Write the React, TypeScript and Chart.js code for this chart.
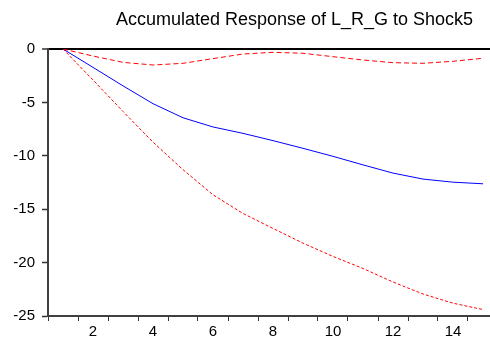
import React, { useEffect, useRef } from "react";
import { Chart, registerables } from "chart.js";

Chart.register(...registerables);

const periods = [1, 2, 3, 4, 5, 6, 7, 8, 9, 10, 11, 12, 13, 14, 15];
const responseMid = [0, -1.72, -3.45, -5.12, -6.44, -7.3, -7.9, -8.58, -9.3, -10.05, -10.85, -11.62, -12.18, -12.47, -12.62];
const bandUpper = [0, -0.66, -1.25, -1.5, -1.34, -0.9, -0.47, -0.31, -0.4, -0.72, -1.03, -1.28, -1.34, -1.15, -0.87];
const bandLower = [0, -2.9, -5.85, -8.72, -11.3, -13.65, -15.4, -16.8, -18.18, -19.42, -20.55, -21.82, -22.94, -23.8, -24.4];
const yTickValues = [0, -5, -10, -15, -20, -25];
const xLabelValues = [2, 4, 6, 8, 10, 12, 14];
const xTickMarks = [0.5, 1.5, 2.5, 3.5, 4.5, 5.5, 6.5, 7.5, 8.5, 9.5, 10.5, 11.5, 12.5, 13.5, 14.5, 15.5];
const titleText = "Accumulated Response of L_R_G to Shock5";

const FONT = "'Liberation Sans', Arial, sans-serif";
const CANVAS_W = 589;
const CANVAS_H = 341;
const AXIS_LEFT = 48;
const PX_PER_PERIOD = 30;
const X_MIN = 0.5;
const X_MAX = X_MIN + (CANVAS_W - AXIS_LEFT) / PX_PER_PERIOD;

export default function App() {
  const ref = useRef<HTMLCanvasElement | null>(null);

  useEffect(() => {
    if (!ref.current) return;
    const toPts = (arr: number[]) => periods.map((p, i) => ({ x: p, y: arr[i] }));
    const chart = new Chart(ref.current, {
      type: "line",
      data: {
        datasets: [
          {
            data: toPts(bandUpper),
            borderColor: "#ff0000",
            borderWidth: 1,
            borderDash: [5, 3],
            pointRadius: 0,
            tension: 0,
            fill: false,
          },
          {
            data: toPts(bandLower),
            borderColor: "#ff0000",
            borderWidth: 1,
            borderDash: [3, 2],
            pointRadius: 0,
            tension: 0,
            fill: false,
          },
          {
            data: toPts(responseMid),
            borderColor: "#0000ff",
            borderWidth: 1,
            pointRadius: 0,
            tension: 0,
            fill: false,
          },
        ],
      },
      options: {
        animation: false,
        responsive: false,
        maintainAspectRatio: false,
        layout: { padding: 0 },
        plugins: {
          legend: { display: false },
          tooltip: { enabled: false },
          title: {
            display: true,
            text: titleText,
            color: "#000",
            font: { family: FONT, size: 18, weight: "normal" },
            padding: { top: 9.2, bottom: 18.2 },
          },
        },
        scales: {
          x: {
            type: "linear",
            min: X_MIN,
            max: X_MAX,
            afterBuildTicks: (scale: any) => {
              const vals = [...xTickMarks, ...xLabelValues].sort((a, b) => a - b);
              scale.ticks = vals.map((v) => ({ value: v }));
            },
            afterFit: (scale: any) => {
              scale.height = 25;
            },
            border: { display: true, color: "#404040", width: 2 },
            grid: {
              drawOnChartArea: false,
              drawTicks: true,
              tickLength: 5,
              tickWidth: 1,
              tickColor: (ctx: any) =>
                ctx.tick && Number.isInteger(ctx.tick.value) ? "rgba(0,0,0,0)" : "#333",
            },
            ticks: {
              autoSkip: false,
              maxRotation: 0,
              minRotation: 0,
              padding: 2,
              color: "#000",
              font: { family: FONT, size: 15 },
              callback: (value: any) =>
                xLabelValues.includes(Number(value)) ? String(value) : "",
            },
          },
          y: {
            type: "linear",
            min: -25,
            max: 0,
            afterBuildTicks: (scale: any) => {
              scale.ticks = yTickValues.map((v) => ({ value: v }));
            },
            afterFit: (scale: any) => {
              scale.width = AXIS_LEFT;
            },
            border: { display: true, color: "#404040", width: 2 },
            grid: {
              drawOnChartArea: true,
              drawTicks: true,
              tickLength: 6,
              tickWidth: 1.5,
              tickColor: "#333",
              color: (ctx: any) => (ctx.tick && ctx.tick.value === 0 ? "#000" : "rgba(0,0,0,0)"),
              lineWidth: (ctx: any) => (ctx.tick && ctx.tick.value === 0 ? 2 : 1),
            },
            ticks: {
              padding: 7,
              color: "#000",
              font: { family: FONT, size: 15 },
              callback: (value: any) => String(value),
            },
          },
        },
      },
    } as any);
    return () => chart.destroy();
  }, []);

  return (
    <div
      style={{
        position: "absolute",
        left: 0,
        top: 0,
        width: 490,
        height: 341,
        overflow: "hidden",
        background: "#fff",
      }}
    >
      <canvas ref={ref} width={CANVAS_W} height={CANVAS_H} style={{ display: "block" }} />
    </div>
  );
}
